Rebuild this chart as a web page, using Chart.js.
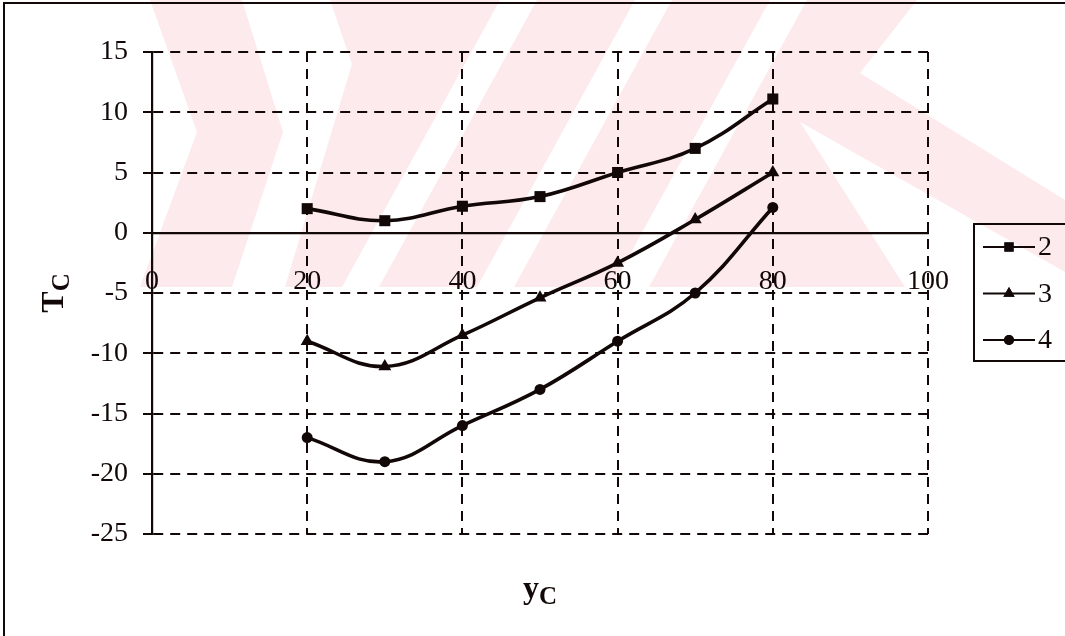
<!DOCTYPE html>
<html>
<head>
<meta charset="utf-8">
<script src="https://cdn.jsdelivr.net/npm/chart.js@4.4.1/dist/chart.umd.min.js"></script>
<style>
  html, body { margin: 0; padding: 0; background: #ffffff; }
  canvas { display: block; }
</style>
</head>
<body>
<canvas id="chart" width="1065" height="636"></canvas>
<script>
// yc values along the horizontal axis
const yc = [20, 30, 40, 50, 60, 70, 80];
// Tc for each curve
const seriesNames = ['2', '3', '4'];
const tc2 = [2, 1, 2.2, 3, 5, 7, 11.1];
const tc3 = [-9, -11.1, -8.5, -5.4, -2.5, 1.1, 5];
const tc4 = [-17, -19, -16, -13, -9, -5, 2.1];
// axis ranges and tick steps
const xTickValues = [0, 20, 40, 60, 80, 100];
const yTickValues = [-25, -20, -15, -10, -5, 0, 5, 10, 15];

const INK = '#120808';
const SERIF = '"Liberation Serif", "Times New Roman", Times, serif';
const DASH = [10, 7];

const toPoints = (xs, ys) => xs.map((x, i) => ({ x, y: ys[i] }));

// pale background emblem behind the plot (decorative bands)
const emblem = {
  id: 'emblem',
  beforeDraw(chart) {
    const ctx = chart.ctx;
    ctx.save();
    ctx.fillStyle = '#ffffff';
    ctx.fillRect(0, 0, chart.width, chart.height);
    ctx.beginPath();
    ctx.rect(0, 0, chart.width, 287);
    ctx.clip();
    const poly = (pts) => {
      ctx.beginPath();
      ctx.moveTo(pts[0][0], pts[0][1]);
      for (let i = 1; i < pts.length; i++) ctx.lineTo(pts[i][0], pts[i][1]);
      ctx.closePath();
      ctx.fill();
    };
    ctx.fillStyle = '#fdeaed';
    poly([[150, 0], [242, 0], [283, 132], [232, 287], [140, 287], [197, 132]]);
    poly([[330, 0], [917, 0], [860, 73], [1065, 200], [1065, 272], [800, 122],
          [905, 287], [285, 287], [352, 64]]);
    ctx.fillStyle = '#ffffff';
    [500, 635, 770].forEach(x0 => {
      poly([[x0, 0], [x0 + 37, 0], [x0 + 37 - 158, 287], [x0 - 158, 287]]);
    });
    ctx.restore();
  }
};

// subscripted axis titles (Tc, yc)
const axisTitles = {
  id: 'axisTitles',
  afterDraw(chart) {
    const ctx = chart.ctx;
    const a = chart.chartArea;
    const big = 'bold 32px ' + SERIF;
    const small = 'bold 25px ' + SERIF;
    const drawSub = (main, sub) => {
      ctx.font = big;
      const w1 = ctx.measureText(main).width;
      ctx.font = small;
      const w2 = ctx.measureText(sub).width;
      const x0 = -(w1 + w2) / 2;
      ctx.font = big;
      ctx.fillText(main, x0, 0);
      ctx.font = small;
      ctx.fillText(sub, x0 + w1, 6);
    };
    ctx.save();
    ctx.fillStyle = INK;
    ctx.textBaseline = 'alphabetic';
    ctx.textAlign = 'left';
    ctx.save();
    ctx.translate((a.left + a.right) / 2, 598);
    drawSub('y', 'C');
    ctx.restore();
    ctx.save();
    ctx.translate(63, (a.top + a.bottom) / 2);
    ctx.rotate(-Math.PI / 2);
    drawSub('T', 'C');
    ctx.restore();
    ctx.restore();
  }
};

// boxed legend with line + marker samples
const boxLegend = {
  id: 'boxLegend',
  afterDraw(chart) {
    const ctx = chart.ctx;
    const left = 974, top = 224, height = 137, rowGap = 46.5, firstRow = 247;
    ctx.save();
    ctx.strokeStyle = INK;
    ctx.lineWidth = 2;
    ctx.strokeRect(left, top, 200, height);
    chart.data.datasets.forEach((ds, i) => {
      const y = firstRow + i * rowGap;
      ctx.strokeStyle = INK;
      ctx.lineWidth = 2.2;
      ctx.beginPath();
      ctx.moveTo(983, y);
      ctx.lineTo(1035, y);
      ctx.stroke();
      ctx.fillStyle = INK;
      Chart.helpers.drawPoint(ctx, {
        pointStyle: ds.pointStyle,
        radius: ds.pointStyle === 'circle' ? 5 : 6.5,
        rotation: 0,
        borderWidth: 0
      }, 1009, y);
      ctx.fill();
      ctx.font = '28px ' + SERIF;
      ctx.textBaseline = 'middle';
      ctx.textAlign = 'left';
      ctx.fillText(ds.label, 1038, y + 1);
    });
    ctx.restore();
  }
};

// outer frame (left and top edges visible)
const frame = {
  id: 'frame',
  afterDraw(chart) {
    const ctx = chart.ctx;
    ctx.save();
    ctx.strokeStyle = INK;
    ctx.lineWidth = 2;
    ctx.beginPath();
    ctx.moveTo(4, chart.height + 2);
    ctx.lineTo(4, 3);
    ctx.lineTo(chart.width + 2, 3);
    ctx.stroke();
    ctx.restore();
  }
};

const seriesValues = [tc2, tc3, tc4];
const markerStyles = ['rect', 'triangle', 'circle'];
const markerSizes = [7.8, 7.5, 5.5];

new Chart(document.getElementById('chart'), {
  type: 'line',
  data: {
    datasets: seriesNames.map((name, i) => ({
      label: name,
      data: toPoints(yc, seriesValues[i]),
      borderColor: INK,
      backgroundColor: INK,
      borderWidth: 3.6,
      tension: 0.4,
      pointStyle: markerStyles[i],
      pointRadius: markerSizes[i],
      pointBackgroundColor: INK,
      pointBorderColor: INK,
      pointBorderWidth: 0,
      fill: false
    }))
  },
  options: {
    responsive: false,
    animation: false,
    devicePixelRatio: 1,
    layout: { padding: { left: 4, top: 52, right: 137, bottom: 102 } },
    plugins: {
      legend: { display: false },
      tooltip: { enabled: false },
      title: { display: false }
    },
    scales: {
      x: {
        type: 'linear',
        position: { y: 0 },
        min: xTickValues[0],
        max: xTickValues[xTickValues.length - 1],
        afterBuildTicks(scale) { scale.ticks = xTickValues.map(v => ({ value: v })); },
        ticks: {
          color: INK,
          font: { family: SERIF, size: 28 },
          padding: 32,
          maxRotation: 0,
          autoSkip: false
        },
        grid: {
          color: INK,
          lineWidth: 2,
          drawTicks: false
        },
        border: { display: true, color: INK, width: 2.2, dash: DASH }
      },
      y: {
        type: 'linear',
        position: 'left',
        min: yTickValues[0],
        max: yTickValues[yTickValues.length - 1],
        afterBuildTicks(scale) { scale.ticks = yTickValues.map(v => ({ value: v })); },
        afterFit(scale) { scale.width = 148; },
        ticks: {
          color: INK,
          font: { family: SERIF, size: 28 },
          padding: 15,
          autoSkip: false
        },
        grid: {
          color: INK,
          lineWidth: 2,
          drawTicks: true,
          tickLength: 9,
          tickColor: INK,
          tickWidth: 2
        },
        border: { display: true, color: INK, width: 2.2, dash: DASH }
      }
    }
  },
  plugins: [emblem, axisTitles, boxLegend, frame]
});
</script>
</body>
</html>
